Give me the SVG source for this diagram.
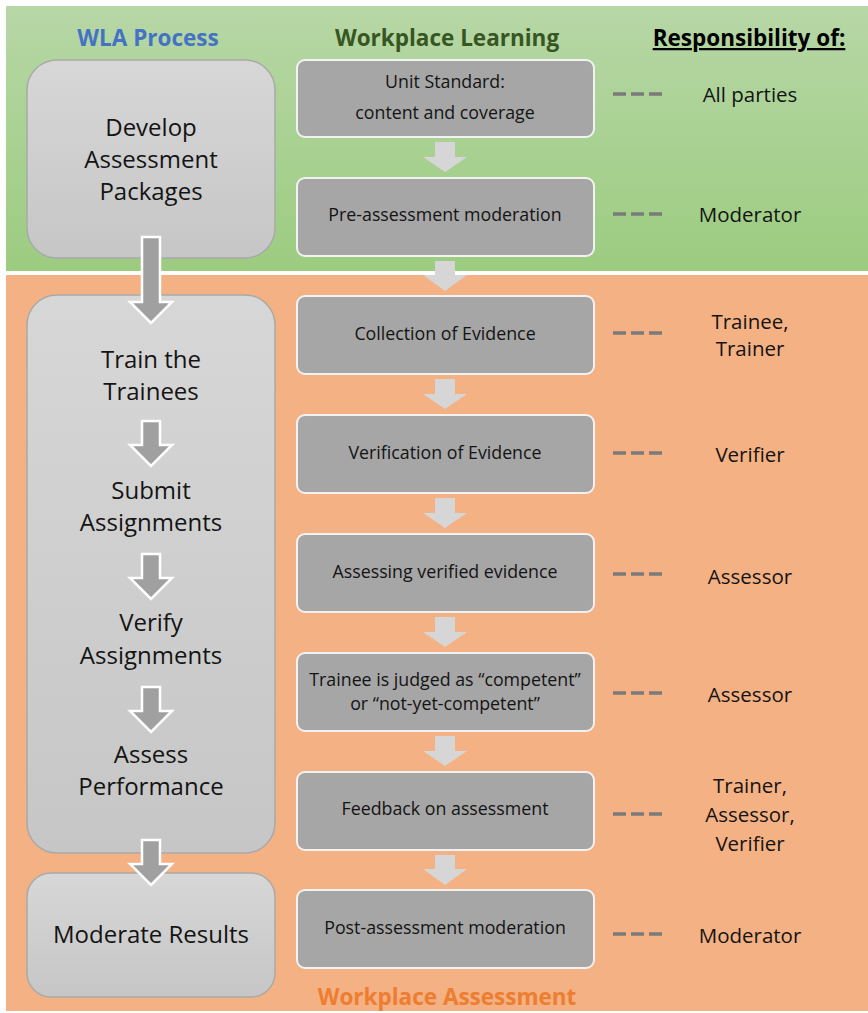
<svg xmlns="http://www.w3.org/2000/svg" width="868" height="1013" viewBox="0 0 868 1013">
<defs>
<linearGradient id="gGreen" x1="0" y1="0" x2="0" y2="1"><stop offset="0" stop-color="#b7d7a6"/><stop offset="1" stop-color="#9ccc80"/></linearGradient>
<linearGradient id="gLeft" x1="0" y1="0" x2="0" y2="1"><stop offset="0" stop-color="#d7d7d7"/><stop offset="1" stop-color="#c6c6c6"/></linearGradient>
<style>
.t{font-family:"Open Sans","Liberation Sans",sans-serif;fill:#141414;text-anchor:middle}
.lt{font-size:24px}
.mt{font-size:17.8px}
.rt{font-size:20.5px}
.lbox{fill:url(#gLeft);stroke:#a9a9a9;stroke-width:1.5}
.mbox{fill:#a6a6a6;stroke:#f2f2f2;stroke-width:2}
.dash{stroke:#7a7a7a;stroke-width:3.5;stroke-dasharray:13,5}
.la{fill:#a0a0a0;stroke:#ffffff;stroke-width:2.5;stroke-linejoin:miter}
.ma{fill:#d6d6d6}
.h{font-family:"Open Sans","Liberation Sans",sans-serif;font-weight:bold;font-size:22.5px;text-anchor:middle}
</style>
</defs>
<rect x="0" y="0" width="868" height="1013" fill="#ffffff"/>
<rect x="6" y="6" width="862" height="265" fill="url(#gGreen)"/>
<rect x="6" y="275" width="862" height="736" fill="#f4b183"/>

<text class="h" x="148" y="46" fill="#4472c4">WLA Process</text>
<text class="h" x="447" y="46" fill="#375623">Workplace Learning</text>
<text class="h" x="749" y="46" fill="#000000" text-decoration="underline">Responsibility of:</text>
<text class="h" x="447" y="1005" fill="#ed7d31">Workplace Assessment</text>

<g id="wla-develop"><rect class="lbox" x="27" y="60" width="248" height="198" rx="30"/>
<text class="t lt" x="151" y="136">Develop</text><text class="t lt" x="151" y="168">Assessment</text><text class="t lt" x="151" y="200">Packages</text></g>
<g id="wla-train"><rect class="lbox" x="27" y="295" width="248" height="558" rx="30"/>
<text class="t lt" x="151" y="368">Train the</text><text class="t lt" x="151" y="400">Trainees</text>
<text class="t lt" x="151" y="499">Submit</text><text class="t lt" x="151" y="531">Assignments</text>
<text class="t lt" x="151" y="631">Verify</text><text class="t lt" x="151" y="664">Assignments</text>
<text class="t lt" x="151" y="763">Assess</text><text class="t lt" x="151" y="795">Performance</text></g>
<g id="wla-moderate"><rect class="lbox" x="27" y="873" width="248" height="124" rx="24"/>
<text class="t lt" x="151" y="943">Moderate Results</text></g>

<g id="wl-1"><rect class="mbox" x="297" y="60" width="297" height="77" rx="8"/><text class="t mt" x="445" y="88">Unit Standard:</text><text class="t mt" x="445" y="119">content and coverage</text></g>
<g id="wl-2"><rect class="mbox" x="297" y="178" width="297" height="78" rx="8"/><text class="t mt" x="445" y="221">Pre-assessment moderation</text></g>
<g id="wa-1"><rect class="mbox" x="297" y="296" width="297" height="78" rx="8"/><text class="t mt" x="445" y="340">Collection of Evidence</text></g>
<g id="wa-2"><rect class="mbox" x="297" y="415" width="297" height="78" rx="8"/><text class="t mt" x="445" y="459">Verification of Evidence</text></g>
<g id="wa-3"><rect class="mbox" x="297" y="534" width="297" height="78" rx="8"/><text class="t mt" x="445" y="578">Assessing verified evidence</text></g>
<g id="wa-4"><rect class="mbox" x="297" y="653" width="297" height="78" rx="8"/><text class="t mt" x="445" y="686">Trainee is judged as “competent”</text><text class="t mt" x="445" y="710">or “not-yet-competent”</text></g>
<g id="wa-5"><rect class="mbox" x="297" y="772" width="297" height="78" rx="8"/><text class="t mt" x="445" y="815">Feedback on assessment</text></g>
<g id="wa-6"><rect class="mbox" x="297" y="890" width="297" height="78" rx="8"/><text class="t mt" x="445" y="934">Post-assessment moderation</text></g>

<g id="resp">
<text class="t rt" x="750" y="102">All parties</text>
<text class="t rt" x="750" y="222">Moderator</text>
<text class="t rt" x="750" y="329">Trainee,</text><text class="t rt" x="750" y="356">Trainer</text>
<text class="t rt" x="750" y="462">Verifier</text>
<text class="t rt" x="750" y="584">Assessor</text>
<text class="t rt" x="750" y="702">Assessor</text>
<text class="t rt" x="750" y="793">Trainer,</text><text class="t rt" x="750" y="822">Assessor,</text><text class="t rt" x="750" y="851">Verifier</text>
<text class="t rt" x="750" y="943">Moderator</text>
</g>

<g id="connectors">
<line class="dash" x1="613" y1="94" x2="662" y2="94"/>
<line class="dash" x1="613" y1="214" x2="662" y2="214"/>
<line class="dash" x1="613" y1="333" x2="662" y2="333"/>
<line class="dash" x1="613" y1="453" x2="662" y2="453"/>
<line class="dash" x1="613" y1="574" x2="662" y2="574"/>
<line class="dash" x1="613" y1="693" x2="662" y2="693"/>
<line class="dash" x1="613" y1="814" x2="662" y2="814"/>
<line class="dash" x1="613" y1="934" x2="662" y2="934"/>

<path class="ma" d="M435,142 h20 v15 h12 l-22,15 l-22,-15 h12 z"/>
<path class="ma" d="M435,261 h20 v14 h12 l-22,16 l-22,-16 h12 z"/>
<path class="ma" d="M435,379 h20 v15 h12 l-22,15 l-22,-15 h12 z"/>
<path class="ma" d="M435,498 h20 v15 h12 l-22,15 l-22,-15 h12 z"/>
<path class="ma" d="M435,617 h20 v15 h12 l-22,15 l-22,-15 h12 z"/>
<path class="ma" d="M435,736 h20 v15 h12 l-22,15 l-22,-15 h12 z"/>
<path class="ma" d="M435,855 h20 v14 h12 l-22,16 l-22,-16 h12 z"/>

<path class="la" d="M142,237 h18 v65 h12 l-21,21 l-21,-21 h12 z"/>
<path class="la" d="M142,421 h18 v24 h12 l-21,21 l-21,-21 h12 z"/>
<path class="la" d="M142,554 h18 v24 h12 l-21,21 l-21,-21 h12 z"/>
<path class="la" d="M142,687 h18 v24 h12 l-21,21 l-21,-21 h12 z"/>
<path class="la" d="M142,840 h18 v24 h12 l-21,21 l-21,-21 h12 z"/>
</g>
</svg>
